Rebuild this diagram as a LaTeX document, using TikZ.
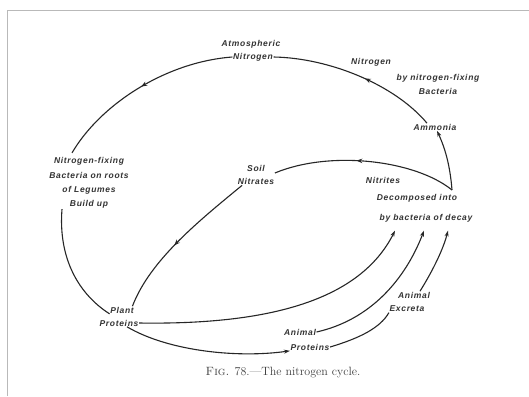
\documentclass[tikz,border=0pt]{standalone}
\usepackage{fontspec}
\newfontfamily\labfont[LetterSpace=8]{Liberation Sans}
\usetikzlibrary{arrows.meta,decorations.markings}
\begin{document}
\begin{tikzpicture}[x=1pt,y=-1pt,
  lab/.style={font=\labfont\bfseries\itshape\fontsize{8.5}{10}\selectfont, text=black!80, inner sep=0.5pt, align=center},
  conn/.style={line width=1.1pt, draw=black!85},
  tip/.style={-{Stealth[length=6pt,width=4pt]}},
  midarrow/.style={postaction={decorate},decoration={markings,mark=at position #1 with {\arrow{Stealth[length=6pt,width=4.5pt]}}}},
  framed/.style={draw=gray!55, line width=0.8pt}
]
\useasboundingbox[fill=white] (0,0) rectangle (529,396);
\draw[framed] (7,396) -- (7,10) -- (529,10);

% labels
\node[lab] (atmA) at (251,44) {Atmospheric};
\node[lab] (atmN) at (253,57) {Nitrogen};
\node[lab] (lbl1) at (371,62) {Nitrogen};
\node[lab,font=\labfont\bfseries\itshape\fontsize{8.5}{14}\selectfont] (lbl2) at (438,84) {by nitrogen-fixing\\Bacteria};
\node[lab] (ammo) at (435,127) {Ammonia};
\node[lab,font=\labfont\bfseries\itshape\fontsize{8.5}{14.3}\selectfont] (nfix) at (89,183) {Nitrogen-fixing\\Bacteria on roots\\of Legumes\\Build up};
\node[lab,font=\labfont\bfseries\itshape\fontsize{8.5}{13}\selectfont] (soil) at (256,175) {Soil\\Nitrates};
\node[lab] (nitri) at (383,180) {Nitrites};
\node[lab] (dec1) at (417,198) {Decomposed into};
\node[lab] (dec2) at (426,218) {by bacteria of decay};
\node[lab] (plantA) at (122,310) {Plant};
\node[lab] (plantP) at (119,323) {Proteins};
\node[lab] (animA) at (300,332) {Animal};
\node[lab] (animP) at (310,347) {Proteins};
\node[lab] (excA) at (414,295) {Animal};
\node[lab] (excE) at (407,309) {Excreta};
\node[font=\fontsize{12}{14}\selectfont\addfontfeatures{LetterSpace=6}, text=black!75, inner sep=0pt] (cap) at (283,373) {\textsc{Fig.} 78.—The nitrogen cycle.};

\coordinate (apex) at (452,190);

% connectors
\draw[conn, midarrow=0.5] (atmN.west) .. controls (165,62) and (100,105) .. ([xshift=-17pt,yshift=4pt]nfix.north);
\draw[conn, midarrow=0.45] ([xshift=-8pt]ammo.north) .. controls (395,85) and (330,58) .. (atmN.east);
\draw[conn, tip] (apex) .. controls (450,165) and (445,148) .. ([xshift=2pt]ammo.south);
\draw[conn, midarrow=0.55] (apex) .. controls (415,160) and (330,150) .. ([yshift=2pt]soil.east);
\draw[conn, midarrow=0.55] ([xshift=5pt]soil.south west) .. controls (200,220) and (150,260) .. ([xshift=-2pt]plantA.north east);
\draw[conn] ([xshift=-27pt]nfix.south) .. controls (58,260) and (80,295) .. (plantA.south west);
\draw[conn, tip] (plantP.east) .. controls (270,325) and (360,300) .. ([xshift=-31pt,yshift=-8pt]dec2.south);
\draw[conn, tip] ([xshift=8pt]plantP.south) .. controls (170,352) and (240,358) .. (animP.south west);
\draw[conn, tip] (animA.east) .. controls (370,320) and (405,280) .. ([xshift=-2pt,yshift=-8pt]dec2.south);
\draw[conn] (animP.east) .. controls (360,338) and (380,328) .. (excE.south west);
\draw[conn, tip] ([xshift=6pt]excA.north) .. controls (432,272) and (443,250) .. ([xshift=22pt,yshift=-8pt]dec2.south);
\end{tikzpicture}
\end{document}
